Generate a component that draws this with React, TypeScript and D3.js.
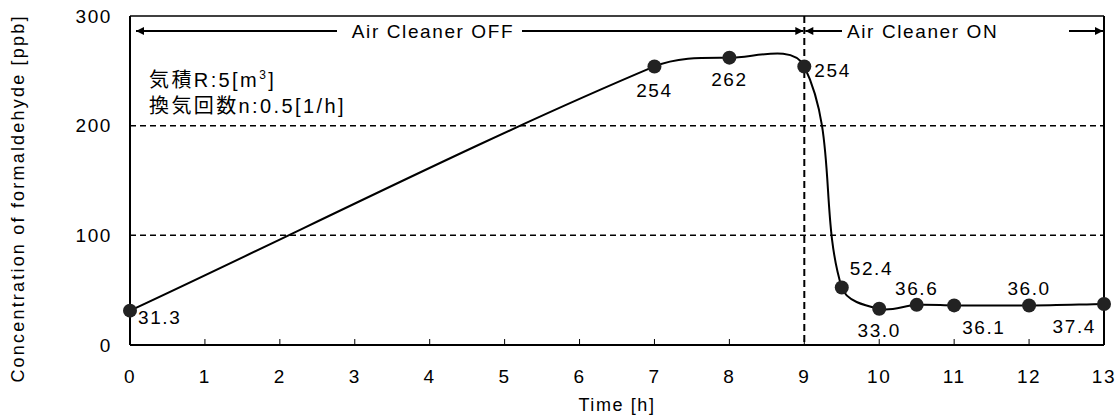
import React, { useEffect, useRef } from 'react';
import * as d3 from 'd3';

const hours = [0, 7, 8, 9, 9.5, 10, 10.5, 11, 12, 13];
const ppb = [31.3, 254, 262, 254, 52.4, 33.0, 36.6, 36.1, 36.0, 37.4];
const labels = ['31.3', '254', '262', '254', '52.4', '33.0', '36.6', '36.1', '36.0', '37.4'];
// label placement relative to point: [dx, dy, anchor]
const labelPos: [number, number, string][] = [
  [8, 7, 'start'], [0, 24, 'middle'], [0, 22, 'middle'], [10, 4, 'start'],
  [8, -19, 'start'], [0, 22, 'middle'], [0, -17, 'middle'], [8, 22, 'start'],
  [0, -17, 'middle'], [-8, 22, 'end'],
];
const xTicks = d3.range(0, 14);
const yTicks = [0, 100, 200, 300];
const switchHour = 9;

const FONT = '"Liberation Sans", Arial, "Noto Sans CJK JP", sans-serif';
const LS = '1.6px';

// smoothed line like a spreadsheet: tangent from neighbours, handle = 1/3 of segment
function smoothPath(pts: [number, number][]) {
  const n = pts.length;
  const tan = pts.map((p, i) => {
    const a = pts[Math.max(0, i - 1)];
    const b = pts[Math.min(n - 1, i + 1)];
    const dx = b[0] - a[0], dy = b[1] - a[1];
    const len = Math.hypot(dx, dy) || 1;
    return [dx / len, dy / len];
  });
  const p = d3.path();
  p.moveTo(pts[0][0], pts[0][1]);
  for (let i = 0; i < n - 1; i++) {
    const a = pts[i], b = pts[i + 1];
    const L = Math.hypot(b[0] - a[0], b[1] - a[1]) / 3;
    p.bezierCurveTo(
      a[0] + tan[i][0] * L, a[1] + tan[i][1] * L,
      b[0] - tan[i + 1][0] * L, b[1] - tan[i + 1][1] * L,
      b[0], b[1]);
  }
  return p.toString();
}

function App() {
  const ref = useRef<SVGSVGElement>(null);
  const width = 1119;
  const height = 419;
  const margin = { top: 16, right: 15, bottom: 74, left: 130 };

  useEffect(() => {
    const svg = d3.select(ref.current);
    svg.selectAll('*').remove();
    const w = width - margin.left - margin.right;
    const h = height - margin.top - margin.bottom;

    const x = d3.scaleLinear().domain([0, 13]).range([0, w]);
    const y = d3.scaleLinear().domain([0, 300]).range([h, 0]);

    const defs = svg.append('defs');
    defs.append('marker')
      .attr('id', 'arr')
      .attr('viewBox', '0 0 10 10')
      .attr('refX', 10).attr('refY', 5)
      .attr('markerWidth', 10).attr('markerHeight', 8)
      .attr('markerUnits', 'userSpaceOnUse')
      .attr('orient', 'auto-start-reverse')
      .append('path').attr('d', 'M0,0 L10,5 L0,10 Z').attr('fill', '#000');

    const g = svg.append('g').attr('transform', `translate(${margin.left},${margin.top})`);
    const txt = (sel: any, size = 19) => sel
      .style('font-family', FONT).style('font-size', `${size}px`).style('letter-spacing', LS);

    // gridlines
    g.selectAll('.grid')
      .data([100, 200])
      .enter().append('line')
      .attr('x1', 0).attr('x2', w)
      .attr('y1', d => y(d)).attr('y2', d => y(d))
      .attr('stroke', '#000').attr('stroke-width', 1.5)
      .attr('stroke-dasharray', '6,4');

    // frame
    g.append('line').attr('x1', 0).attr('x2', w).attr('y1', 0).attr('y2', 0)
      .attr('stroke', '#000').attr('stroke-width', 1.5);
    g.append('line').attr('x1', w).attr('x2', w).attr('y1', 0).attr('y2', h)
      .attr('stroke', '#000').attr('stroke-width', 2);
    g.append('line').attr('x1', 0).attr('x2', 0).attr('y1', 0).attr('y2', h)
      .attr('stroke', '#000').attr('stroke-width', 2);
    g.append('line').attr('x1', 0).attr('x2', w).attr('y1', h).attr('y2', h)
      .attr('stroke', '#000').attr('stroke-width', 2);

    // x ticks (inside)
    g.selectAll('.xt')
      .data(xTicks)
      .enter().append('line')
      .attr('x1', d => x(d)).attr('x2', d => x(d))
      .attr('y1', h).attr('y2', h - 6)
      .attr('stroke', '#000').attr('stroke-width', 1);
    txt(g.selectAll('.xl')
      .data(xTicks)
      .enter().append('text')
      .attr('x', d => x(d)).attr('y', h + 38)
      .attr('text-anchor', 'middle'))
      .text(d => d);
    txt(g.selectAll('.yl')
      .data(yTicks)
      .enter().append('text')
      .attr('x', -18).attr('y', d => y(d)).attr('dy', '0.35em')
      .attr('text-anchor', 'end'))
      .text(d => d);

    // switch line
    g.append('line')
      .attr('x1', x(switchHour)).attr('x2', x(switchHour))
      .attr('y1', 0).attr('y2', h)
      .attr('stroke', '#000').attr('stroke-width', 2)
      .attr('stroke-dasharray', '7,4');

    // arrows
    const ay = 15;
    const arrow = (x1: number, x2: number, start: boolean, end: boolean) => {
      const l = g.append('line').attr('x1', x1).attr('x2', x2).attr('y1', ay).attr('y2', ay)
        .attr('stroke', '#000').attr('stroke-width', 2);
      if (start) l.attr('marker-start', 'url(#arr)');
      if (end) l.attr('marker-end', 'url(#arr)');
    };
    arrow(x(0) + 6, 207, true, false);
    arrow(392, x(switchHour) - 1, false, true);
    arrow(x(switchHour) + 1, 712, true, false);
    arrow(939, w - 1, false, true);
    txt(g.append('text').attr('x', 303).attr('y', ay).attr('dy', '0.36em')
      .attr('text-anchor', 'middle'))
      .text('Air Cleaner OFF');
    txt(g.append('text').attr('x', 717).attr('y', ay).attr('dy', '0.36em'))
      .text('Air Cleaner ON');

    // annotation
    const ann = txt(g.append('text').attr('x', 19).attr('y', 71), 20).style('letter-spacing', '2.4px');
    ann.append('tspan').text('気積R:5[m');
    ann.append('tspan').attr('dy', -8).style('font-size', '12px').text('3');
    ann.append('tspan').attr('dy', 8).text(']');
    txt(g.append('text').attr('x', 19).attr('y', 97), 20).style('letter-spacing', '2.4px')
      .text('換気回数n:0.5[1/h]');

    // curve
    const pts: [number, number][] = hours.map((d, i) => [x(d), y(ppb[i])]);
    g.append('path')
      .attr('d', smoothPath(pts))
      .attr('fill', 'none').attr('stroke', '#000').attr('stroke-width', 2);

    g.selectAll('.pt')
      .data(pts)
      .enter().append('circle')
      .attr('cx', d => d[0]).attr('cy', d => d[1]).attr('r', 7)
      .attr('fill', '#222');

    txt(g.selectAll('.lbl')
      .data(pts)
      .enter().append('text')
      .attr('x', (d, i) => d[0] + labelPos[i][0])
      .attr('y', (d, i) => d[1] + labelPos[i][1])
      .attr('dy', '0.35em')
      .attr('text-anchor', (d, i) => labelPos[i][2]))
      .text((d, i) => labels[i]);

    // axis titles
    txt(g.append('text').attr('x', w / 2).attr('y', h + 66)
      .attr('text-anchor', 'middle'), 18)
      .text('Time [h]');
    txt(svg.append('text')
      .attr('transform', `translate(18,${margin.top + h / 2 + 18}) rotate(-90)`)
      .attr('dy', '0.35em')
      .attr('text-anchor', 'middle'), 18)
      .style('letter-spacing', '2.2px')
      .text('Concentration of  formaldehyde [ppb]');
  }, []);

  return (
    <svg ref={ref} width={width} height={height}
      style={{ position: 'absolute', left: 0, top: 0, background: '#fff' }}></svg>
  );
}

export default App;
